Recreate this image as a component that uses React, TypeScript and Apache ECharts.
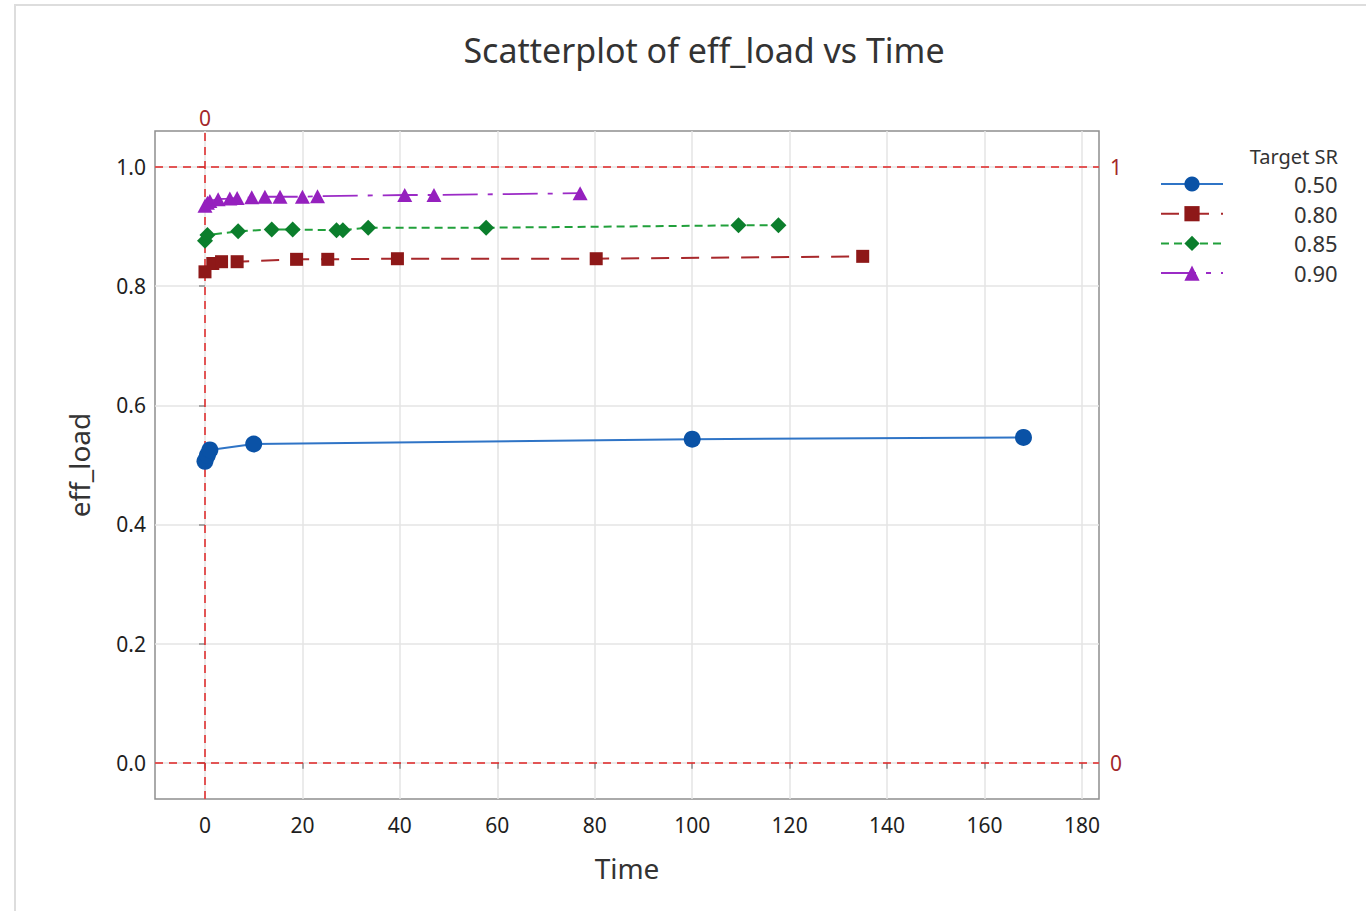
import React, { useEffect, useRef } from "react";
import * as echarts from "echarts";

const seriesNames = ["0.50", "0.80", "0.85", "0.90"];

const blueX = [0, 0.5, 1, 10, 100, 168];
const blueY = [0.506, 0.516, 0.525, 0.535, 0.543, 0.546];

const redX = [0, 1.6, 3.4, 6.6, 18.8, 25.2, 39.5, 80.3, 135];
const redY = [0.824, 0.838, 0.841, 0.841, 0.845, 0.845, 0.846, 0.846, 0.85];

const greenX = [0, 0.5, 6.8, 13.7, 18, 27, 28.3, 33.5, 57.7, 109.5, 117.7];
const greenY = [0.876, 0.886, 0.892, 0.895, 0.895, 0.894, 0.894, 0.898, 0.898, 0.902, 0.902];

const purpleX = [0, 0.5, 1, 2.7, 5.1, 6.6, 9.6, 12.3, 15.4, 20, 23.1, 41, 47, 77];
const purpleY = [0.935, 0.94, 0.943, 0.946, 0.947, 0.948, 0.949, 0.95, 0.95, 0.95, 0.951, 0.953, 0.953, 0.956];

const xTicks = [0, 20, 40, 60, 80, 100, 120, 140, 160, 180];
const yTicks = [0, 0.2, 0.4, 0.6, 0.8, 1.0];
const refY = [1, 0];
const refX = [0];

const FONT = "'Noto Sans', 'Open Sans', sans-serif";

function pairs(xs: number[], ys: number[]) {
  return xs.map((x, i) => [x, ys[i]]);
}

export default function App() {
  const ref = useRef<HTMLDivElement>(null);
  useEffect(() => {
    const chart = echarts.init(ref.current!, undefined, { renderer: "svg" });
    const refColor = "#E02424";
    const refLabelColor = "#A3282A";
    const option: any = {
      animation: false,
      backgroundColor: "#ffffff",
      textStyle: { fontFamily: FONT },
      title: {
        text: "Scatterplot of eff_load vs Time",
        left: 699,
        top: 28,
        textAlign: "center",
        textStyle: { fontFamily: FONT, fontSize: 34, fontWeight: "normal", color: "#333333" },
      },
      graphic: [
        {
          type: "rect",
          shape: { x: 15, y: 5, width: 1400, height: 1000 },
          style: { fill: "none", stroke: "#dddddd", lineWidth: 2 },
          silent: true,
        },
        {
          type: "text",
          x: 1338,
          y: 156,
          style: {
            text: "Target SR",
            fontFamily: FONT,
            fontSize: 20,
            fill: "#333333",
            align: "right",
            verticalAlign: "middle",
          },
        },
      ],
      legend: {
        orient: "vertical",
        left: 1160,
        top: 173,
        padding: 0,
        itemWidth: 62,
        itemHeight: 19,
        itemGap: 7.7,
        data: seriesNames,
        textStyle: {
          fontFamily: FONT,
          fontSize: 22,
          color: "#333333",
          padding: [0, 0, 0, 66],
        },
      },
      grid: {
        left: 155,
        top: 131,
        right: 267,
        bottom: 112,
        show: true,
        borderColor: "#8f8f8f",
        borderWidth: 1.5,
        backgroundColor: "transparent",
      },
      xAxis: {
        type: "value",
        min: -10.26,
        max: 183.5,
        name: "Time",
        nameLocation: "middle",
        nameGap: 55,
        nameTextStyle: { fontFamily: FONT, fontSize: 28, color: "#333333" },
        axisLine: { show: false },
        axisTick: {
          show: true,
          customValues: xTicks,
          length: 6,
          lineStyle: { color: "#8f8f8f", width: 1.5 },
        },
        axisLabel: {
          customValues: xTicks,
          fontFamily: FONT,
          fontSize: 21,
          color: "#1e1e1e",
          margin: 15,
        },
        splitLine: { show: true, lineStyle: { color: "#e4e4e4", width: 1.5 } },
      },
      yAxis: {
        type: "value",
        min: -0.0609,
        max: 1.0604,
        name: "eff_load",
        nameLocation: "middle",
        nameGap: 62,
        nameTextStyle: { fontFamily: FONT, fontSize: 28, color: "#333333" },
        axisLine: { show: false },
        axisTick: {
          show: true,
          customValues: yTicks,
          length: 6,
          lineStyle: { color: "#8f8f8f", width: 1.5 },
        },
        axisLabel: {
          customValues: yTicks,
          fontFamily: FONT,
          fontSize: 21,
          color: "#1e1e1e",
          margin: 9,
          formatter: (v: number) => v.toFixed(1),
        },
        splitLine: { show: true, lineStyle: { color: "#e4e4e4", width: 1.5 } },
      },
      series: [
        {
          name: "ref",
          type: "line",
          data: [],
          z: 1,
          silent: true,
          markLine: {
            silent: true,
            symbol: "none",
            animation: false,
            lineStyle: { color: refColor, type: [8, 6], width: 1.5 },
            label: {
              color: refLabelColor,
              fontFamily: FONT,
              fontSize: 21,
              position: "end",
              distance: 11,
              formatter: (p: any) => String(p.value),
            },
            data: [
              ...refY.map((v) => ({ yAxis: v })),
              ...refX.map((v) => ({ xAxis: v, label: { distance: 3 } })),
            ],
          },
        },
        {
          name: "0.50",
          type: "line",
          data: pairs(blueX, blueY),
          symbol: "circle",
          symbolSize: 17,
          z: 5,
          itemStyle: { color: "#0A52A6" },
          lineStyle: { color: "#2F74C6", width: 2, type: "solid" },
        },
        {
          name: "0.80",
          type: "line",
          data: pairs(redX, redY),
          symbol: "rect",
          symbolSize: 13,
          z: 5,
          itemStyle: { color: "#8E1818" },
          lineStyle: { color: "#A8282B", width: 2, type: [18, 12] },
        },
        {
          name: "0.85",
          type: "line",
          data: pairs(greenX, greenY),
          symbol: "diamond",
          symbolSize: [16, 16],
          z: 5,
          itemStyle: { color: "#0B7E2C" },
          lineStyle: { color: "#21A03B", width: 2, type: [8, 5] },
        },
        {
          name: "0.90",
          type: "line",
          data: pairs(purpleX, purpleY),
          symbol: "triangle",
          symbolSize: [15, 14],
          z: 5,
          itemStyle: { color: "#9520BE" },
          lineStyle: { color: "#9B2BC6", width: 1.8, type: [35, 10, 5, 10] },
        },
      ],
    };
    chart.setOption(option);
    return () => chart.dispose();
  }, []);
  return (
    <div
      ref={ref}
      style={{ position: "fixed", left: 0, top: 0, width: 1366, height: 911, background: "#fff" }}
    />
  );
}
